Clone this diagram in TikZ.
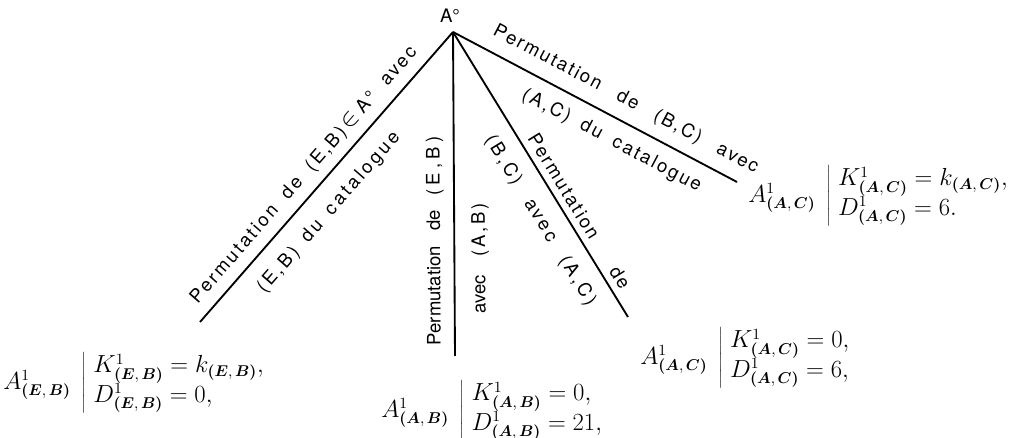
\documentclass[tikz,border=0pt]{standalone}
\usepackage{fontspec}
\usepackage{bm}
\newfontfamily\heros{TeX Gyre Heros}
\usetikzlibrary{positioning}

\newcommand{\pairidx}[2]{\bm{(}\bm{#1},\,\bm{#2}\bm{)}}
\newcommand{\spread}[3]{\makebox[#1][s]{\addfontfeature{LetterSpace=#2}#3}}

\begin{document}
\begin{tikzpicture}[x=0.7pt, y=-0.7pt,
    branch/.style={line width=1.3pt},
    lbl/.style={font=\heros\fontsize{13}{15}\selectfont, inner sep=0pt, sloped},
    leaf/.style={font=\fontsize{16}{16.5}\selectfont, inner sep=0pt, anchor=west}
]
\useasboundingbox (0,0) rectangle (1010,438);

\node[font=\heros\fontsize{13}{15}\selectfont] (root) at (450,16) {A°};
\coordinate (top) at (453,32);
\coordinate (eb) at (200,322);
\coordinate (ab) at (455,356);
\coordinate (acl) at (628,317);
\coordinate (acr) at (737,182);

% branches with their labels
\draw[branch] (top) --
  node[lbl, pos=0.535, yshift=12.6pt] {\spread{234pt}{13}{Permutation de (E,B)\kern3pt{\fontsize{17}{17}\selectfont$\in$}\kern3pt A° avec}}
  node[lbl, pos=0.565, yshift=-17.7pt] {\spread{145pt}{16}{(E,B) du catalogue}} (eb);
\draw[branch] (ab) --
  node[lbl, allow upside down, pos=0.355, yshift=13.3pt] {\spread{146pt}{0}{Permutation de {\addfontfeature{LetterSpace=22}(E,B)}}}
  node[lbl, allow upside down, pos=0.30, yshift=-18.2pt] {\spread{77pt}{0}{avec {\addfontfeature{LetterSpace=14}(A,B)}}} (top);
\draw[branch] (top) --
  node[lbl, pos=0.654, yshift=9.8pt] {\spread{125pt}{11}{Permutation de}}
  node[lbl, pos=0.617, yshift=-17pt] {\spread{137pt}{15}{(B,C) avec (A,C)}} (acl);
\draw[branch] (top) --
  node[lbl, pos=0.574, yshift=14.7pt] {\spread{208pt}{11}{Permutation de (B,C) avec}}
  node[lbl, pos=0.595, yshift=-15.4pt] {\spread{140pt}{12}{(A,C) du catalogue}} (acr);

% leaves
\node[leaf] (leafEB) at (3,383) {$A^1_{\pairidx{E}{B}}\;\left|\;\begin{array}{@{}l@{}}
  K^1_{\pairidx{E}{B}} = k_{\pairidx{E}{B}},\\ D^1_{\pairidx{E}{B}} = 0,\end{array}\right.$};
\node[leaf] (leafAB) at (381,411) {$A^1_{\pairidx{A}{B}}\;\left|\;\begin{array}{@{}l@{}}
  K^1_{\pairidx{A}{B}} = 0,\\ D^1_{\pairidx{A}{B}} = 21,\end{array}\right.$};
\node[leaf] (leafAC) at (640,358) {$A^1_{\pairidx{A}{C}}\;\left|\;\begin{array}{@{}l@{}}
  K^1_{\pairidx{A}{C}} = 0,\\ D^1_{\pairidx{A}{C}} = 6,\end{array}\right.$};
\node[leaf] (leafACr) at (748,196) {$A^1_{\pairidx{A}{C}}\;\left|\;\begin{array}{@{}l@{}}
  K^1_{\pairidx{A}{C}} = k_{\pairidx{A}{C}},\\ D^1_{\pairidx{A}{C}} = 6.\end{array}\right.$};
\end{tikzpicture}
\end{document}
